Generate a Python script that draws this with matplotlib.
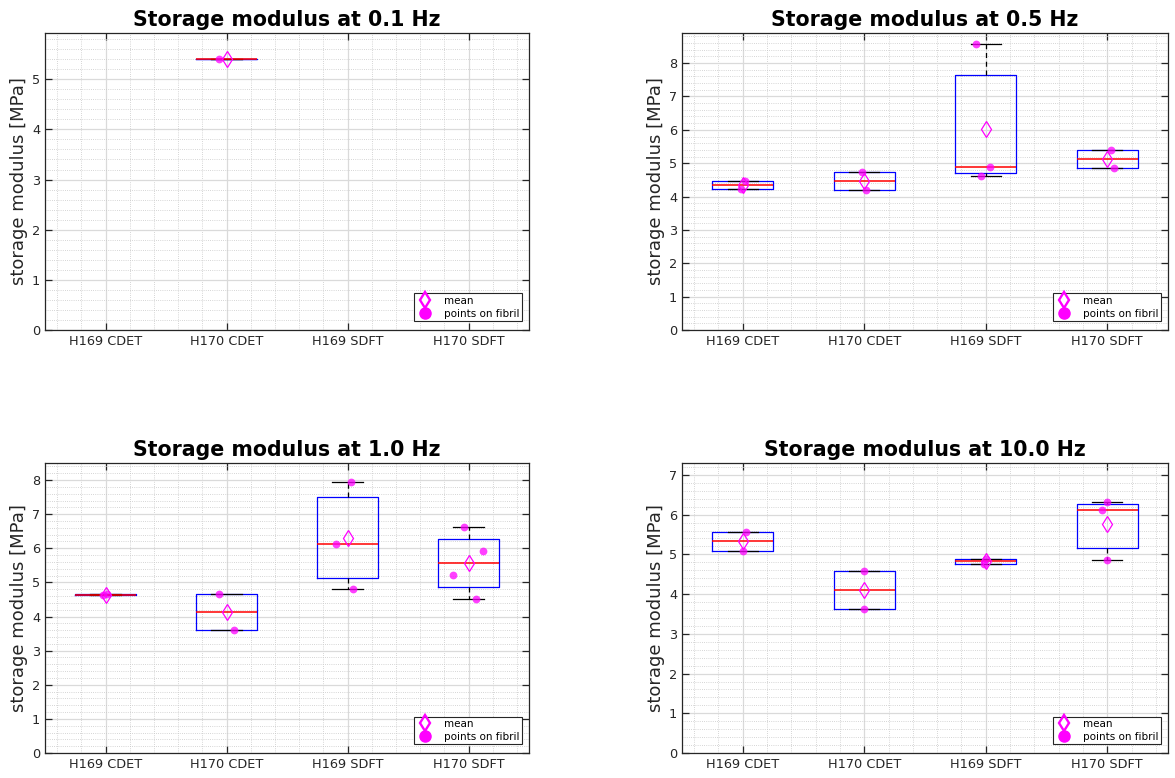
import numpy as np
import matplotlib.pyplot as plt
from matplotlib.lines import Line2D
from matplotlib.ticker import MultipleLocator

groups = ['H169 CDET', 'H170 CDET', 'H169 SDFT', 'H170 SDFT']

# storage modulus per fibril point [MPa], one list per group
pts_01 = [[], [5.41], [], []]
pts_05 = [[4.24, 4.47], [4.19, 4.75], [8.57, 4.63, 4.89], [5.40, 4.85]]
pts_10 = [[4.62, 4.67], [4.675, 3.60], [7.95, 6.12, 4.80], [6.63, 5.91, 5.23, 4.52]]
pts_100 = [[5.56, 5.09], [4.59, 3.62], [4.89, 4.76], [6.31, 6.12, 4.85]]

# horizontal jitter of the points (category units)
jit_01 = [[], [-0.06], [], []]
jit_05 = [[-0.015, 0.018], [0.015, -0.021], [-0.077, -0.036, 0.036], [0.03, 0.058]]
jit_10 = [[-0.024, 0.009], [-0.064, 0.058], [0.03, -0.095, 0.049], [-0.037, 0.119, -0.125, 0.064]]
jit_100 = [[0.027, 0.0], [0.0, 0.0], [0.0, -0.01], [0.0, -0.04, 0.0]]

freqs = ['0.1', '0.5', '1.0', '10.0']
ytops = [5.92, 8.9, 8.5, 7.3]

AX_COL = (0.15, 0.15, 0.15)


def box_stats(vals):
    v = np.asarray(vals, dtype=float)
    q1, med, q3 = np.percentile(v, [25, 50, 75], method='hazen')
    iqr = q3 - q1
    lo = v[v >= q1 - 1.5 * iqr].min()
    hi = v[v <= q3 + 1.5 * iqr].max()
    return dict(med=med, q1=q1, q3=q3, whislo=lo, whishi=hi, fliers=[])


def panel(ax, pts, jit, freq, ytop):
    stats, pos = [], []
    for i, v in enumerate(pts):
        if len(v):
            stats.append(box_stats(v))
            pos.append(i + 1)
    ax.bxp(stats, positions=pos, widths=0.5, showfliers=False,
           boxprops=dict(color='blue', lw=0.9),
           medianprops=dict(color='red', lw=1.1, zorder=3),
           whiskerprops=dict(color='black', lw=0.9, ls=(0, (4, 3))),
           capprops=dict(color='black', lw=0.9),
           manage_ticks=False)
    for i, (v, j) in enumerate(zip(pts, jit)):
        if not len(v):
            continue
        ax.plot(np.array(j) + i + 1, v, 'o', color='magenta', alpha=0.75,
                ms=5.6, mec='none', zorder=4)
        ax.plot(i + 1, np.mean(v), 'd', mfc='none', mec='magenta',
                ms=8, mew=0.9, zorder=5)

    ax.set_xlim(0.5, 4.5)
    ax.set_ylim(0, ytop)
    ax.set_xticks(range(1, 5))
    ax.set_xticklabels(groups)
    ax.yaxis.set_major_locator(MultipleLocator(1))
    ax.xaxis.set_minor_locator(MultipleLocator(0.2))
    ax.yaxis.set_minor_locator(MultipleLocator(0.2))
    ax.grid(True, which='major', color='#dadada', lw=0.9, ls='-')
    ax.grid(True, which='minor', color='#c8c8c8', lw=0.6, ls=(0, (1, 1.6)))
    ax.set_axisbelow(True)
    ax.tick_params(which='major', direction='in', length=5, width=0.9,
                   top=True, right=True, colors=AX_COL, labelsize=9.3,
                   labelcolor=AX_COL)
    ax.tick_params(which='minor', length=0)
    for s in ax.spines.values():
        s.set_color(AX_COL)
        s.set_linewidth(0.9)
    ax.set_title('Storage modulus at %s Hz' % freq, fontsize=14.8,
                 fontweight='bold', pad=5)
    ax.set_ylabel('storage modulus [MPa]', fontsize=13, color=AX_COL,
                  labelpad=3)

    handles = [Line2D([], [], ls='none', marker='d', mfc='none', mec='magenta',
                      ms=8, mew=1.7),
               Line2D([], [], ls='none', marker='o', color='magenta', ms=8)]
    leg = ax.legend(handles, ['mean', 'points on fibril'], loc='lower right',
                    bbox_to_anchor=(0.985, 0.03), fontsize=7.5, fancybox=False,
                    framealpha=1, edgecolor=AX_COL, borderpad=0.25,
                    handletextpad=1.0, labelspacing=0.25, borderaxespad=0,
                    handlelength=1.6)
    leg.get_frame().set_linewidth(0.8)


fig = plt.figure(figsize=(11.75, 7.78), dpi=100)
rects = [[0.0383, 0.5758, 0.412, 0.3817],
         [0.5804, 0.5758, 0.4136, 0.3817],
         [0.0383, 0.0321, 0.412, 0.3728],
         [0.5804, 0.0321, 0.4136, 0.3728]]
all_pts = [pts_01, pts_05, pts_10, pts_100]
all_jit = [jit_01, jit_05, jit_10, jit_100]
for r, p, j, f, t in zip(rects, all_pts, all_jit, freqs, ytops):
    ax = fig.add_axes(r)
    panel(ax, p, j, f, t)

fig.savefig('out.png', dpi=100)
